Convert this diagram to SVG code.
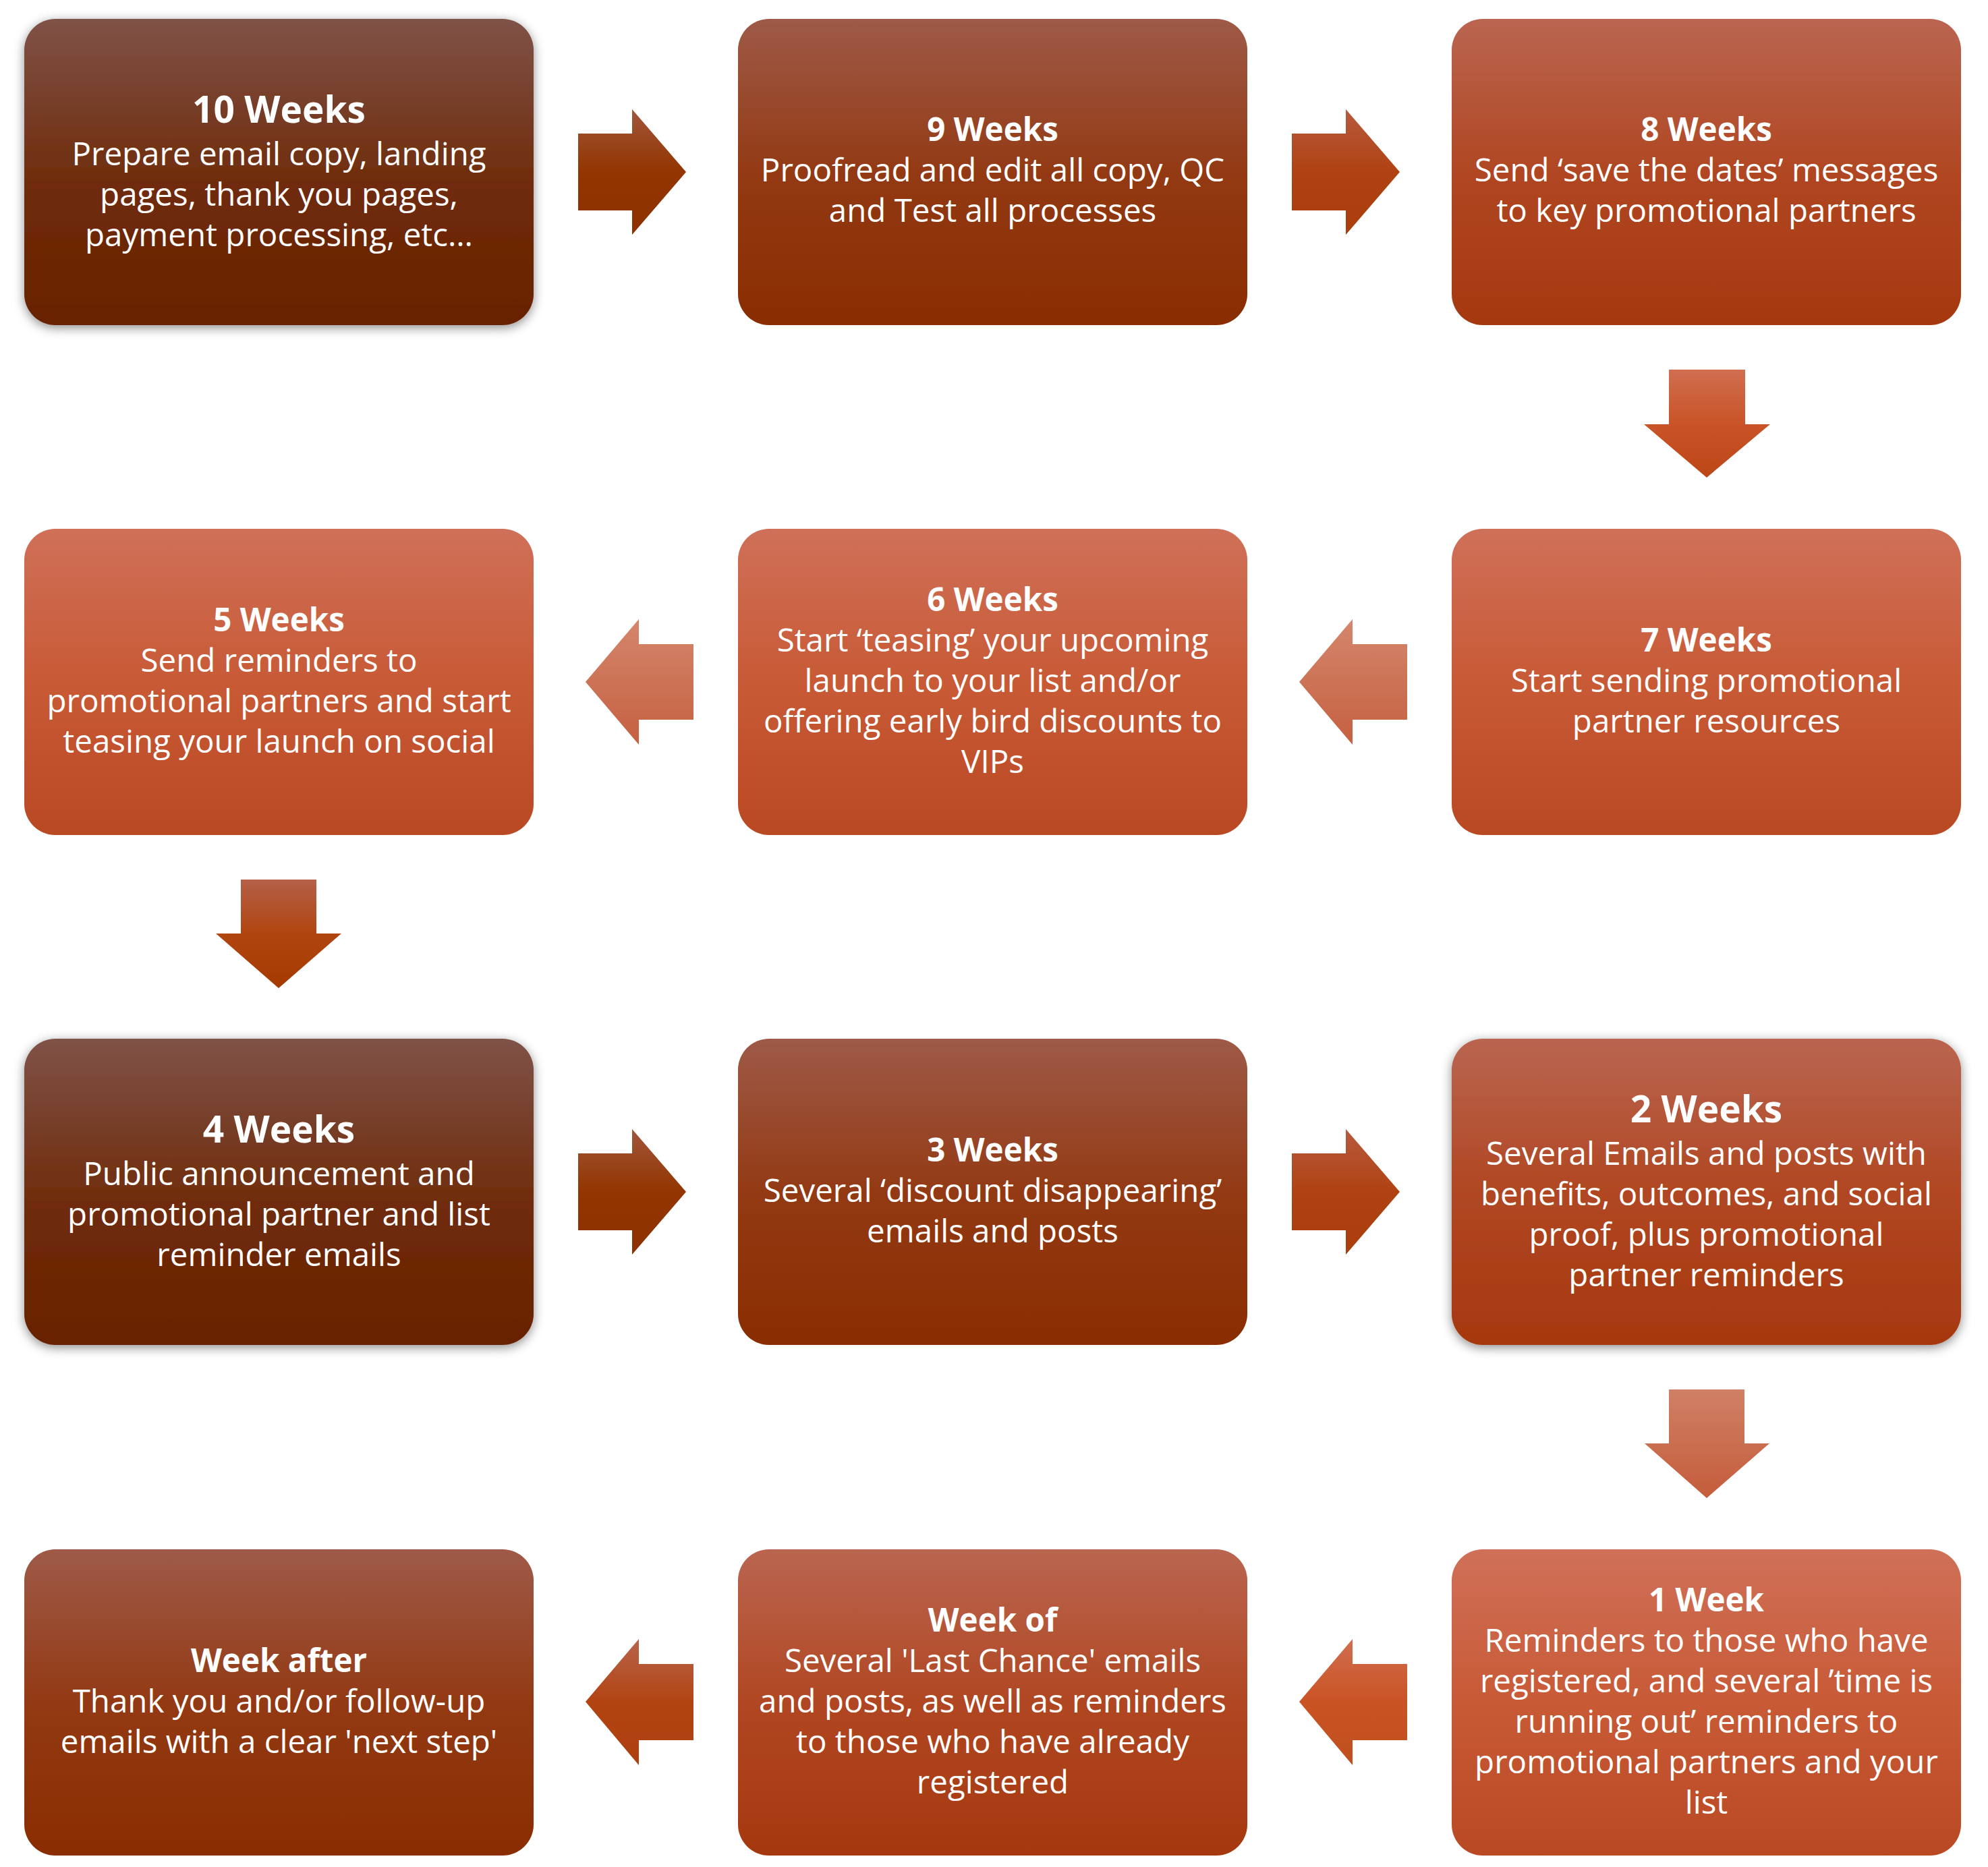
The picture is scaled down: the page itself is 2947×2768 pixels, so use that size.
<svg xmlns="http://www.w3.org/2000/svg" width="2947" height="2768" viewBox="0 0 2947 2768">
<style>
.t{font-family:"Open Sans","Noto Sans",sans-serif;fill:#ffffff;text-anchor:middle;font-size:47.5px}
.h{font-weight:700}
.hb{font-weight:700;font-size:55px}
</style>
<defs>
<filter id="sh" x="-10%" y="-10%" width="120%" height="125%">
<feDropShadow dx="0" dy="4" stdDeviation="8" flood-color="#000" flood-opacity="0.45"/>
</filter>
<linearGradient id="gA" x1="0" y1="0" x2="0" y2="1"><stop offset="0" stop-color="#7F5247"/><stop offset="0.55" stop-color="#6F2B0A"/><stop offset="1" stop-color="#682300"/></linearGradient>
<linearGradient id="gB" x1="0" y1="0" x2="0" y2="1"><stop offset="0" stop-color="#9E5A48"/><stop offset="0.5" stop-color="#933A14"/><stop offset="1" stop-color="#8A2D00"/></linearGradient>
<linearGradient id="gC" x1="0" y1="0" x2="0" y2="1"><stop offset="0" stop-color="#BA6550"/><stop offset="0.5" stop-color="#B04722"/><stop offset="1" stop-color="#A6380F"/></linearGradient>
<linearGradient id="gD" x1="0" y1="0" x2="0" y2="1"><stop offset="0" stop-color="#CF7058"/><stop offset="0.5" stop-color="#C85A36"/><stop offset="1" stop-color="#B94923"/></linearGradient>
<linearGradient id="aA" x1="0" y1="0" x2="0" y2="1"><stop offset="0" stop-color="#A0563B"/><stop offset="0.5" stop-color="#933500"/><stop offset="1" stop-color="#8C3100"/></linearGradient>
<linearGradient id="aB" x1="0" y1="0" x2="0" y2="1"><stop offset="0" stop-color="#B65A3E"/><stop offset="0.5" stop-color="#B04212"/><stop offset="1" stop-color="#AA3D0C"/></linearGradient>
<linearGradient id="aC" x1="0" y1="0" x2="0" y2="1"><stop offset="0" stop-color="#D06E50"/><stop offset="0.5" stop-color="#C95428"/><stop offset="1" stop-color="#BD4616"/></linearGradient>
<linearGradient id="aD" x1="0" y1="0" x2="0" y2="1"><stop offset="0" stop-color="#D4866C"/><stop offset="1" stop-color="#C56040"/></linearGradient>
<linearGradient id="aE" x1="0" y1="0" x2="0" y2="1"><stop offset="0" stop-color="#B56048"/><stop offset="0.5" stop-color="#B04510"/><stop offset="1" stop-color="#A53A00"/></linearGradient>
<linearGradient id="aF" x1="0" y1="0" x2="0" y2="1"><stop offset="0" stop-color="#D08066"/><stop offset="1" stop-color="#C45C3A"/></linearGradient>
<linearGradient id="aG" x1="0" y1="0" x2="0" y2="1"><stop offset="0" stop-color="#D06E50"/><stop offset="0.5" stop-color="#CA5323"/><stop offset="1" stop-color="#C04F1E"/></linearGradient>
<linearGradient id="aH" x1="0" y1="0" x2="0" y2="1"><stop offset="0" stop-color="#B8634A"/><stop offset="0.5" stop-color="#B24412"/><stop offset="1" stop-color="#AE4010"/></linearGradient>
</defs>
<rect width="2947" height="2768" fill="#ffffff"/>

<g id="connectors">
<polygon fill="url(#aA)" points="857,198 937,198 937,162 1017,255 937,348 937,312 857,312"/>
<polygon fill="url(#aB)" points="1915,198 1995,198 1995,162 2075,255 1995,348 1995,312 1915,312"/>
<polygon fill="url(#aC)" points="2474,548 2587,548 2587,629 2624,629 2530,708 2437,629 2474,629"/>
<polygon fill="url(#aD)" points="1926,1011 2005,918 2005,955 2086,955 2086,1067 2005,1067 2005,1104"/>
<polygon fill="url(#aD)" points="868,1011 947,918 947,955 1028,955 1028,1067 947,1067 947,1104"/>
<polygon fill="url(#aE)" points="357,1304 469,1304 469,1384 506,1384 413,1465 320,1384 357,1384"/>
<polygon fill="url(#aA)" points="857,1710 937,1710 937,1674 1017,1767 937,1860 937,1824 857,1824"/>
<polygon fill="url(#aB)" points="1915,1710 1995,1710 1995,1674 2075,1767 1995,1860 1995,1824 1915,1824"/>
<polygon fill="url(#aF)" points="2474,2060 2586,2060 2586,2140 2623,2140 2530,2221 2438,2140 2474,2140"/>
<polygon fill="url(#aG)" points="1926,2523 2005,2430 2005,2467 2086,2467 2086,2580 2005,2580 2005,2617"/>
<polygon fill="url(#aH)" points="868,2523 947,2430 947,2467 1028,2467 1028,2580 947,2580 947,2617"/>
</g>

<g id="n10weeks">
<rect x="36" y="28" width="755" height="454" rx="46" fill="url(#gA)" filter="url(#sh)"/>
<text class="t"><tspan class="hb" x="413.5" y="182">10 Weeks</tspan><tspan x="413.5" y="245">Prepare email copy, landing</tspan><tspan x="413.5" y="305">pages, thank you pages,</tspan><tspan x="413.5" y="365">payment processing, etc…</tspan></text>
</g>
<g id="n9weeks">
<rect x="1094" y="28" width="755" height="454" rx="46" fill="url(#gB)"/>
<text class="t"><tspan class="h" x="1471.5" y="209">9 Weeks</tspan><tspan x="1471.5" y="269">Proofread and edit all copy, QC</tspan><tspan x="1471.5" y="329">and Test all processes</tspan></text>
</g>
<g id="n8weeks">
<rect x="2152" y="28" width="755" height="454" rx="46" fill="url(#gC)"/>
<text class="t"><tspan class="h" x="2529.5" y="209">8 Weeks</tspan><tspan x="2529.5" y="269">Send ‘save the dates’ messages</tspan><tspan x="2529.5" y="329">to key promotional partners</tspan></text>
</g>

<g id="n7weeks">
<rect x="2152" y="784" width="755" height="454" rx="46" fill="url(#gD)"/>
<text class="t"><tspan class="h" x="2529.5" y="966">7 Weeks</tspan><tspan x="2529.5" y="1026">Start sending promotional</tspan><tspan x="2529.5" y="1086">partner resources</tspan></text>
</g>
<g id="n6weeks">
<rect x="1094" y="784" width="755" height="454" rx="46" fill="url(#gD)"/>
<text class="t"><tspan class="h" x="1471.5" y="906">6 Weeks</tspan><tspan x="1471.5" y="966">Start ‘teasing’ your upcoming</tspan><tspan x="1471.5" y="1026">launch to your list and/or</tspan><tspan x="1471.5" y="1086">offering early bird discounts to</tspan><tspan x="1471.5" y="1146">VIPs</tspan></text>
</g>
<g id="n5weeks">
<rect x="36" y="784" width="755" height="454" rx="46" fill="url(#gD)"/>
<text class="t"><tspan class="h" x="413.5" y="936">5 Weeks</tspan><tspan x="413.5" y="996">Send reminders to</tspan><tspan x="413.5" y="1056">promotional partners and start</tspan><tspan x="413.5" y="1116">teasing your launch on social</tspan></text>
</g>

<g id="n4weeks">
<rect x="36" y="1540" width="755" height="454" rx="46" fill="url(#gA)" filter="url(#sh)"/>
<text class="t"><tspan class="hb" x="413.5" y="1694">4 Weeks</tspan><tspan x="413.5" y="1757">Public announcement and</tspan><tspan x="413.5" y="1817">promotional partner and list</tspan><tspan x="413.5" y="1877">reminder emails</tspan></text>
</g>
<g id="n3weeks">
<rect x="1094" y="1540" width="755" height="454" rx="46" fill="url(#gB)"/>
<text class="t"><tspan class="h" x="1471.5" y="1722">3 Weeks</tspan><tspan x="1471.5" y="1782">Several ‘discount disappearing’</tspan><tspan x="1471.5" y="1842">emails and posts</tspan></text>
</g>
<g id="n2weeks">
<rect x="2152" y="1540" width="755" height="454" rx="46" fill="url(#gC)" filter="url(#sh)"/>
<text class="t"><tspan class="hb" x="2529.5" y="1664">2 Weeks</tspan><tspan x="2529.5" y="1727">Several Emails and posts with</tspan><tspan x="2529.5" y="1787">benefits, outcomes, and social</tspan><tspan x="2529.5" y="1847">proof, plus promotional</tspan><tspan x="2529.5" y="1907">partner reminders</tspan></text>
</g>

<g id="n1week">
<rect x="2152" y="2297" width="755" height="454" rx="46" fill="url(#gD)"/>
<text class="t"><tspan class="h" x="2529.5" y="2389">1 Week</tspan><tspan x="2529.5" y="2449">Reminders to those who have</tspan><tspan x="2529.5" y="2509">registered, and several ’time is</tspan><tspan x="2529.5" y="2569">running out’ reminders to</tspan><tspan x="2529.5" y="2629">promotional partners and your</tspan><tspan x="2529.5" y="2689">list</tspan></text>
</g>
<g id="nweekof">
<rect x="1094" y="2297" width="755" height="454" rx="46" fill="url(#gC)"/>
<text class="t"><tspan class="h" x="1471.5" y="2419">Week of</tspan><tspan x="1471.5" y="2479">Several 'Last Chance' emails</tspan><tspan x="1471.5" y="2539">and posts, as well as reminders</tspan><tspan x="1471.5" y="2599">to those who have already</tspan><tspan x="1471.5" y="2659">registered</tspan></text>
</g>
<g id="nweekafter">
<rect x="36" y="2297" width="755" height="454" rx="46" fill="url(#gB)"/>
<text class="t"><tspan class="h" x="413.5" y="2479">Week after</tspan><tspan x="413.5" y="2539">Thank you and/or follow-up</tspan><tspan x="413.5" y="2599">emails with a clear 'next step'</tspan></text>
</g>
</svg>
